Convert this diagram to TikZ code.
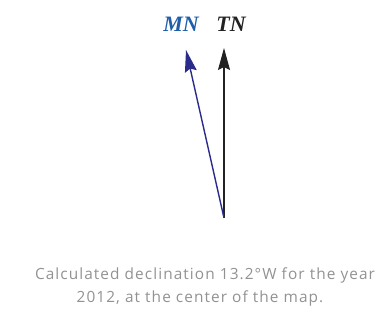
\documentclass[tikz,border=0pt]{standalone}
\usepackage{fontspec}
\setmainfont{Liberation Serif}
\newfontfamily\capfont[LetterSpace=7]{Open Sans}
\usetikzlibrary{arrows.meta}
\definecolor{mnblue}{HTML}{1F5FAA}
\definecolor{mnline}{HTML}{2B2B8C}
\definecolor{tnblack}{HTML}{222222}
\definecolor{capgray}{HTML}{929292}
\begin{document}
\begin{tikzpicture}[x=1pt,y=1pt,
  northarrow/.style={line width=1.4pt,-{Stealth[length=22pt,width=12pt,inset=3pt]}},
  lbl/.style={font=\fontsize{22}{26}\selectfont\bfseries\itshape},
  captext/.style={font=\capfont\fontsize{15.4}{23}\selectfont,text=capgray,anchor=base,inner sep=0pt}]
\useasboundingbox (0,0) rectangle (375,323);
\coordinate (o) at (224,105);
\coordinate (tn) at (224,275);
\coordinate (mn) at (186,273);
\draw[northarrow,tnblack] (o) -- (tn);
\draw[northarrow,mnline] (o) -- (mn);
\node[lbl,text=mnblue] (mnl) at (181,298.5) {MN};
\node[lbl,text=tnblack] (tnl) at (231,298.5) {TN};
\node[captext] (cap1) at (205,43) {Calculated declination 13.2°W for the year};
\node[captext] (cap2) at (200,20) {2012, at the center of the map.};
\end{tikzpicture}
\end{document}
